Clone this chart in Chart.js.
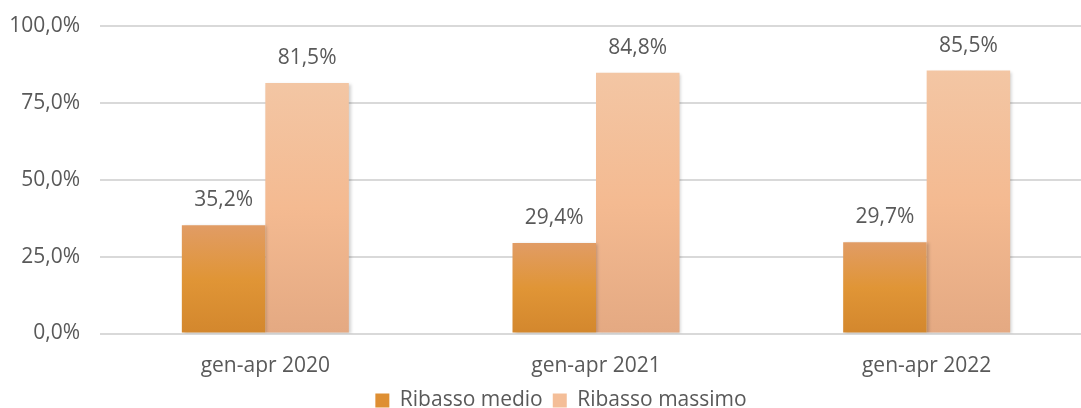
<!DOCTYPE html>
<html>
<head>
<meta charset="utf-8">
<script src="https://cdn.jsdelivr.net/npm/chart.js@4"></script>
<style>
  html, body { margin: 0; padding: 0; background: #fff; overflow: hidden; }
  #wrap { width: 1092px; height: 408px; }
</style>
</head>
<body>
<div id="wrap"><canvas id="chart"></canvas></div>
<script>
const categories = ["gen-apr 2020", "gen-apr 2021", "gen-apr 2022"]
const ribassoMedio = [35.2, 29.4, 29.7]
const ribassoMassimo = [81.5, 84.8, 85.5]
const yTicks = [0, 25, 50, 75, 100]

const textColor = "#595959"
const fontFamily = "'Open Sans', sans-serif"
const fontSize = 21

function fmt(v, digits) {
  return v.toFixed(digits).replace(".", ",") + "%"
}

// vertical gradient that follows each bar
function barGradient(stops) {
  return function (ctx) {
    const chart = ctx.chart
    if (!chart.chartArea || ctx.type !== "data") return stops[1]
    const y = chart.scales.y
    const top = y.getPixelForValue(ctx.raw)
    const bottom = y.getPixelForValue(0)
    const g = chart.ctx.createLinearGradient(0, top, 0, bottom)
    g.addColorStop(0, stops[0])
    g.addColorStop(0.5, stops[1])
    g.addColorStop(1, stops[2])
    return g
  }
}

const shadowPlugin = {
  id: "shadow",
  beforeDatasetsDraw(chart) {
    const c = chart.ctx
    c.save()
    c.shadowColor = "rgba(0,0,0,0.18)"
    c.shadowBlur = 3
    c.shadowOffsetX = 2
    c.shadowOffsetY = 1
  },
  afterDatasetsDraw(chart) {
    chart.ctx.restore()
  }
}

// nudge the legend right so it sits where the original one does
const legendShift = {
  id: "legendShift",
  afterLayout(chart) {
    chart.legend.left += 15
    chart.legend.right += 15
  }
}

const valueLabels = {
  id: "valueLabels",
  afterDatasetsDraw(chart) {
    const c = chart.ctx
    c.save()
    c.font = fontSize + "px " + fontFamily
    c.fillStyle = textColor
    c.textAlign = "center"
    c.textBaseline = "middle"
    chart.data.datasets.forEach((ds, i) => {
      chart.getDatasetMeta(i).data.forEach((bar, j) => {
        c.fillText(fmt(ds.data[j], 1), bar.x, bar.y - 25)
      })
    })
    c.restore()
  }
}

new Chart(document.getElementById("chart"), {
  type: "bar",
  data: {
    labels: categories,
    datasets: [
      {
        label: "Ribasso medio",
        data: ribassoMedio,
        backgroundColor: barGradient(["#E19C65", "#E09536", "#D3872D"])
      },
      {
        label: "Ribasso massimo",
        data: ribassoMassimo,
        backgroundColor: barGradient(["#F3C6A4", "#F4BA91", "#E4A982"])
      }
    ]
  },
  options: {
    responsive: true,
    maintainAspectRatio: false,
    animation: false,
    categoryPercentage: 0.505,
    barPercentage: 1,
    layout: { padding: { left: 0, top: 26, right: 0, bottom: -13 } },
    plugins: {
      tooltip: { enabled: false },
      legend: {
        position: "bottom",
        labels: {
          color: textColor,
          font: { family: fontFamily, size: fontSize },
          boxWidth: 14,
          boxHeight: 14,
          padding: 10,
          generateLabels(chart) {
            const cols = ["#DE8F33", "#F4BE98"]
            return chart.data.datasets.map((ds, i) => ({
              text: ds.label,
              fillStyle: cols[i],
              strokeStyle: cols[i],
              lineWidth: 0,
              fontColor: textColor,
              datasetIndex: i
            }))
          }
        }
      }
    },
    scales: {
      x: {
        afterFit(scale) { scale.height = 46.5 },
        grid: { display: false, drawTicks: false },
        border: { display: false },
        ticks: {
          color: textColor,
          font: { family: fontFamily, size: fontSize },
          padding: 20
        }
      },
      y: {
        min: 0,
        max: 100,
        afterBuildTicks(scale) {
          scale.ticks = yTicks.map(v => ({ value: v }))
        },
        afterFit(scale) {
          scale.width = 100
          scale.paddingTop = 0
          scale.paddingBottom = 0
        },
        grid: { color: "#D9D9D9", lineWidth: 2, drawTicks: false },
        border: { display: false },
        ticks: {
          color: textColor,
          font: { family: fontFamily, size: fontSize },
          padding: 20,
          callback: v => fmt(v, 1)
        }
      }
    }
  },
  plugins: [shadowPlugin, legendShift, valueLabels]
})
</script>
</body>
</html>
